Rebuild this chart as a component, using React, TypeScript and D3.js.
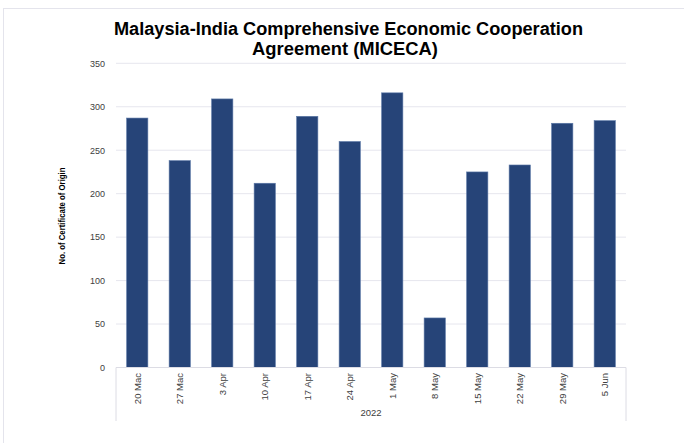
import React from "react";
import * as d3 from "d3";

const categories = ["20 Mac", "27 Mac", "3 Apr", "10 Apr", "17 Apr", "24 Apr", "1 May", "8 May", "15 May", "22 May", "29 May", "5 Jun"];
const values = [287, 238, 309, 212, 289, 260, 316, 57, 225, 233, 281, 284];
const yTicks = [0, 50, 100, 150, 200, 250, 300, 350];
const groupLabel = "2022";
const titleLines = ["Malaysia-India Comprehensive Economic Cooperation", "Agreement (MICECA)"];
const yTitle = "No. of Certificate of Origin";

export default function App() {
  const W = 684, H = 443;
  const left = 116, right = 626, top = 63.3, bottom = 367.5;
  const x = d3.scaleBand<string>().domain(categories).range([left, right]).paddingInner(0.5).paddingOuter(0.25);
  const y = d3.scaleLinear().domain([0, 350]).range([bottom, top]);
  const font = "'Liberation Sans', Arial, sans-serif";
  return (
    <svg width={W} height={H} style={{ position: "absolute", left: 0, top: 0, background: "#fff" }} fontFamily={font}>
      <rect x={3.5} y={8.5} width={720} height={500} fill="#fff" stroke="#e4e4ec" strokeWidth={1} />
      <text x={348.5} y={35} textAnchor="middle" fontSize={17.5} fontWeight="bold" fill="#000" textLength={469} lengthAdjust="spacingAndGlyphs">{titleLines[0]}</text>
      <text x={345} y={55} textAnchor="middle" fontSize={17.5} fontWeight="bold" fill="#000" textLength={186} lengthAdjust="spacingAndGlyphs">{titleLines[1]}</text>
      {yTicks.map(t => (
        <g key={t}>
          {t > 0 && <line x1={left} x2={right} y1={y(t)} y2={y(t)} stroke="#e6e6ee" strokeWidth={1} />}
          <text x={105} y={y(t) + 3.3} textAnchor="end" fontSize={9} fill="#404040">{t}</text>
        </g>
      ))}
      {categories.map((c, i) => (
        <rect key={c} x={x(c)} y={y(values[i])} width={x.bandwidth()} height={bottom - y(values[i])} fill="#264478" stroke="#5a77a6" strokeWidth={0.6} />
      ))}
      <line x1={left} x2={right} y1={bottom} y2={bottom} stroke="#dcdce4" strokeWidth={1} />
      <line x1={left} x2={left} y1={bottom} y2={421} stroke="#dcdce4" strokeWidth={1} />
      <line x1={right} x2={right} y1={bottom} y2={421} stroke="#dcdce4" strokeWidth={1} />
      {categories.map(c => {
        const cx = (x(c) as number) + x.bandwidth() / 2 + 3.5;
        return (
          <text key={c} transform={`translate(${cx},373) rotate(-90)`} textAnchor="end" fontSize={9.5} fill="#404040">{c}</text>
        );
      })}
      <text x={371} y={416} textAnchor="middle" fontSize={9.5} fill="#404040">{groupLabel}</text>
      <text transform={`translate(65,216) rotate(-90)`} textAnchor="middle" fontSize={9} fontWeight="bold" fill="#000" textLength={97} lengthAdjust="spacingAndGlyphs">{yTitle}</text>
    </svg>
  );
}
